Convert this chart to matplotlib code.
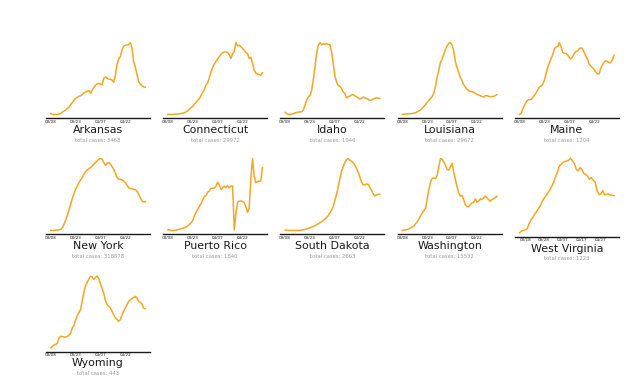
import matplotlib

matplotlib.use("Agg")
import matplotlib.dates as mdates
import matplotlib.pyplot as plt
import pandas as pd

# smoothed daily new cases (relative units, 03/08 -> 05/04)
STATES = [
    "Arkansas", "Connecticut", "Idaho", "Louisiana", "Maine",
    "New York", "Puerto Rico", "South Dakota", "Washington", "West Virginia",
    "Wyoming",
]
TOTAL_CASES = [3468, 29972, 1946, 29672, 1204, 318878, 1840, 2663, 15532, 1223, 443]
START_DATES = ["2020-03-08"] * 9 + ["2020-03-15", "2020-03-08"]
TICKS = ["2020-03-08", "2020-03-23", "2020-04-07", "2020-04-22"]
TICKS_WV = ["2020-03-18", "2020-03-28", "2020-04-07", "2020-04-17", "2020-04-27"]

arkansas = [1, 0, 0, 0, 0, 0.5, 1.4, 3.2, 4.6, 6, 8.3, 10, 13.4, 16.2, 19.4, 22, 23.6,
            25, 25.9, 27.3, 29.6, 30.6, 32, 32.9, 29.2, 33.3, 37, 40.3, 42, 43, 41.7,
            40.7, 50, 51.4, 50, 48.6, 48.6, 47.2, 44.4, 54.6, 69.4, 76.8, 79.6, 89.3,
            94, 95.4, 96, 96.3, 99, 91.6, 73, 64.8, 55.5, 45.4, 41.7, 39.4, 38, 37.5]
connecticut = [0, 0, 0, 0, 0.2, 0.5, 0.5, 0.9, 1.4, 1.6, 2.3, 3.7, 5.1, 7.4, 9.3, 11.6,
               14.4, 16.7, 19.9, 22.2, 26.4, 30.6, 34.7, 41.2, 44, 51.4, 59.3, 65.8,
               70.4, 73.6, 77.3, 80.6, 83.8, 86.1, 87, 87, 86.1, 83.3, 77.8, 84.7, 88,
               100, 95.4, 96.3, 94, 91.7, 89.4, 86.1, 84.7, 77.8, 79.6, 70.8, 61.6,
               57.4, 56, 55.6, 54.6, 57.9]
idaho = [2.8, 0.9, 0, 0, 0.5, 0.9, 2.3, 2.8, 3.2, 3.5, 3.7, 6, 13, 19.9, 24.5, 26.4,
         33.8, 48.6, 66.2, 84.7, 96.3, 100, 97.2, 98.1, 97.7, 98.6, 97.2, 97.2, 87,
         70.8, 53.7, 45.4, 40.3, 39.4, 36.1, 31.5, 29.2, 23.1, 24.5, 25.5, 26.9, 27.8,
         25.9, 24.5, 23.1, 21.3, 22.2, 24.1, 23.1, 22.2, 21.3, 19.4, 19.9, 21.3, 22.2,
         23.1, 22.7, 22.2]
louisiana = [0, 0.2, 0.5, 0.7, 0.9, 1.1, 1.4, 1.8, 2.3, 3.7, 5, 6.4, 8.7, 11, 13.8, 17,
             19.7, 22.5, 24.8, 29.8, 39, 51.8, 61.9, 72.5, 77.1, 83.9, 90.4, 95.4, 99.1,
             100, 96.3, 88.1, 73.4, 65.1, 58.3, 51.4, 46.8, 41.3, 38.1, 34.9, 33, 32.1,
             31.7, 30.7, 29.4, 28, 27.1, 26.1, 25, 24.3, 26.1, 26.1, 25.2, 24.8, 24.8,
             25.2, 26.1, 27.5]
maine = [0, 1.8, 7.7, 12.7, 17.3, 20, 20.5, 20.9, 23.6, 26.8, 30, 34.5, 38.2, 39.5,
         41.8, 47.7, 56.8, 65.5, 71.8, 77.7, 82.7, 91.8, 93.6, 94.5, 100, 94.5, 86.4,
         85, 85, 82.7, 79.1, 77.3, 80.5, 85, 87.7, 88.2, 91.4, 92.7, 91.4, 86.4, 81.4,
         76.8, 70, 67.3, 65, 62.7, 58.6, 56.4, 56.4, 64.5, 69.1, 72.7, 74.5, 73.6, 71.8,
         72.3, 75.9, 82.7]
new_york = [0, 0, 0, 0.2, 0.5, 0.9, 1.4, 3.7, 8.4, 14.4, 20.9, 28.4, 36.3, 44.2, 51.2,
            57.2, 61.9, 66.5, 70.2, 73.5, 78.1, 81.4, 84.2, 86, 87.4, 89.8, 92.1, 94.4,
            96.7, 99.1, 100, 99.1, 94.4, 90.7, 93.5, 94.4, 92.1, 88.8, 85.1, 79.5, 73.5,
            71.2, 71.2, 70.2, 68.8, 66.5, 62.8, 59.5, 58.1, 58.1, 57.2, 56.3, 54.9,
            50.2, 45.6, 40.9, 39.5, 40]
puerto_rico = [0.9, 0.5, 0, 0, 0, 0.5, 0.9, 1.9, 2.3, 3, 3.7, 5.1, 6.5, 8.4, 10.7, 14,
               20.6, 25.2, 29.4, 33.6, 37.4, 43, 47.2, 48.6, 53.3, 55.1, 58.4, 58.9,
               58.9, 61.7, 67.3, 63.1, 57, 59.3, 61.7, 59.3, 62.6, 59.3, 61.7, 61.7,
               0.9, 24.3, 39.3, 40.6, 41.1, 40.2, 38.8, 32.7, 25.2, 31.8, 71.5, 100,
               75.7, 66.4, 67.8, 68.7, 68.7, 87.4]
south_dakota = [0.5, 0.2, 0, 0, 0, 0, 0, 0, 0, 0.2, 0.5, 0.9, 1.4, 2.1, 2.8, 3.7, 4.7,
                5.6, 6.5, 7.9, 9.3, 10.7, 12.1, 14, 15.8, 18.1, 20.5, 24.7, 27.9, 33.9,
                41.4, 50.2, 60.5, 72.1, 82.3, 88.8, 94.4, 98.6, 100, 97.7, 96.3, 94.4,
                91.1, 86.5, 81.4, 74.9, 67.4, 63.7, 63.3, 64.7, 64.2, 60, 56.3, 51.6,
                47.9, 49.3, 50.2, 50.2]
washington = [0, 0.5, 0.9, 1.4, 2.1, 3.3, 4.7, 6.1, 9.3, 12.1, 15.9, 20.1, 24.3, 27.6,
              30.8, 43.9, 57, 67.3, 72.4, 72.9, 71.9, 76.6, 88.8, 100, 99.1, 95.3, 90.7,
              85, 84.1, 88.8, 93.5, 80.4, 71.1, 60.7, 52.3, 47.7, 48.6, 43, 35.5, 33.6,
              32.7, 36, 38.3, 39.2, 43.9, 39.2, 40.6, 43.9, 43, 45.3, 47.7, 45.3, 43,
              40.6, 43, 43.9, 45.3, 47.7]
west_virginia = [0, 2.2, 3.1, 3.8, 5.4, 11.7, 17, 20.6, 24.7, 28.7, 32.3, 36.8, 42.2,
                 46.2, 49.8, 53.8, 57.4, 62.3, 67.3, 74.9, 80.7, 89.2, 91.9, 94.2, 95.5,
                 96.4, 97.3, 100, 96.4, 92.8, 85.2, 83, 87.4, 84.8, 79.4, 78.5, 75.8,
                 71.7, 74, 70.4, 68.2, 57, 51.1, 52, 56.5, 51.1, 51.6, 52, 50.7, 50.2,
                 49.8]
wyoming = [0, 2.3, 4.1, 4.8, 6.5, 13.8, 16.1, 15.7, 15.2, 15.2, 15.7, 18, 20.3, 27.7,
           31.3, 38.3, 44.7, 48.8, 53, 65.5, 77.4, 86.2, 90.8, 95.4, 99.1, 98.2, 94.9,
           97.7, 99.5, 95.8, 88.5, 82, 75.1, 65.5, 59.9, 57.6, 55.3, 50.2, 45.6, 41.5,
           39.2, 36.9, 39.2, 46.1, 50.7, 55.3, 59.9, 64.5, 66.8, 68.2, 70, 71.4, 69.1,
           64.5, 63.1, 60.8, 55.3, 54.4]

SERIES = [arkansas, connecticut, idaho, louisiana, maine, new_york, puerto_rico,
          south_dakota, washington, west_virginia, wyoming]

LINE_COLOR = "#f5a623"
W, H = 640, 392


def main() -> None:
    fig = plt.figure(figsize=(W / 100, H / 100), dpi=100)

    row_bottoms = [118, 234, 351.5]  # spine y, pixels from top
    for i, (state, total, start, values) in enumerate(
        zip(STATES, TOTAL_CASES, START_DATES, SERIES)
    ):
        row, col = divmod(i, 5)
        left = 46 + 117.2 * col
        bottom = row_bottoms[row]
        height = 79
        if state == "West Virginia":
            bottom += 2.5
            height = 82
        ax = fig.add_axes([left / W, (H - bottom) / H, 104 / W, height / H])

        dates = pd.date_range(start, periods=len(values), freq="D")
        ax.plot(dates, values, color=LINE_COLOR, linewidth=1.1)

        ticks = TICKS_WV if state == "West Virginia" else TICKS
        ax.set_xticks(pd.to_datetime(ticks))
        ax.xaxis.set_major_formatter(mdates.DateFormatter("%m/%d"))
        ax.tick_params(axis="x", length=0, pad=1.2, labelsize=3.0, labelcolor="#222222")
        ax.set_yticks([])
        for side in ("top", "left", "right"):
            ax.spines[side].set_visible(False)
        ax.spines["bottom"].set_color("#1a1a1a")
        ax.spines["bottom"].set_linewidth(1.0)

        ax.annotate(state, xy=(0.5, 0), xycoords="axes fraction",
                    xytext=(0, -12), textcoords="offset pixels",
                    ha="center", va="center", fontsize=7.9, color="#1a1a1a")
        ax.annotate(f"total cases: {total}", xy=(0.5, 0), xycoords="axes fraction",
                    xytext=(0, -22), textcoords="offset pixels",
                    ha="center", va="center", fontsize=3.8, color="#999999")

    fig.savefig("out.png", dpi=100)
    plt.close(fig)


if __name__ == "__main__":
    main()
